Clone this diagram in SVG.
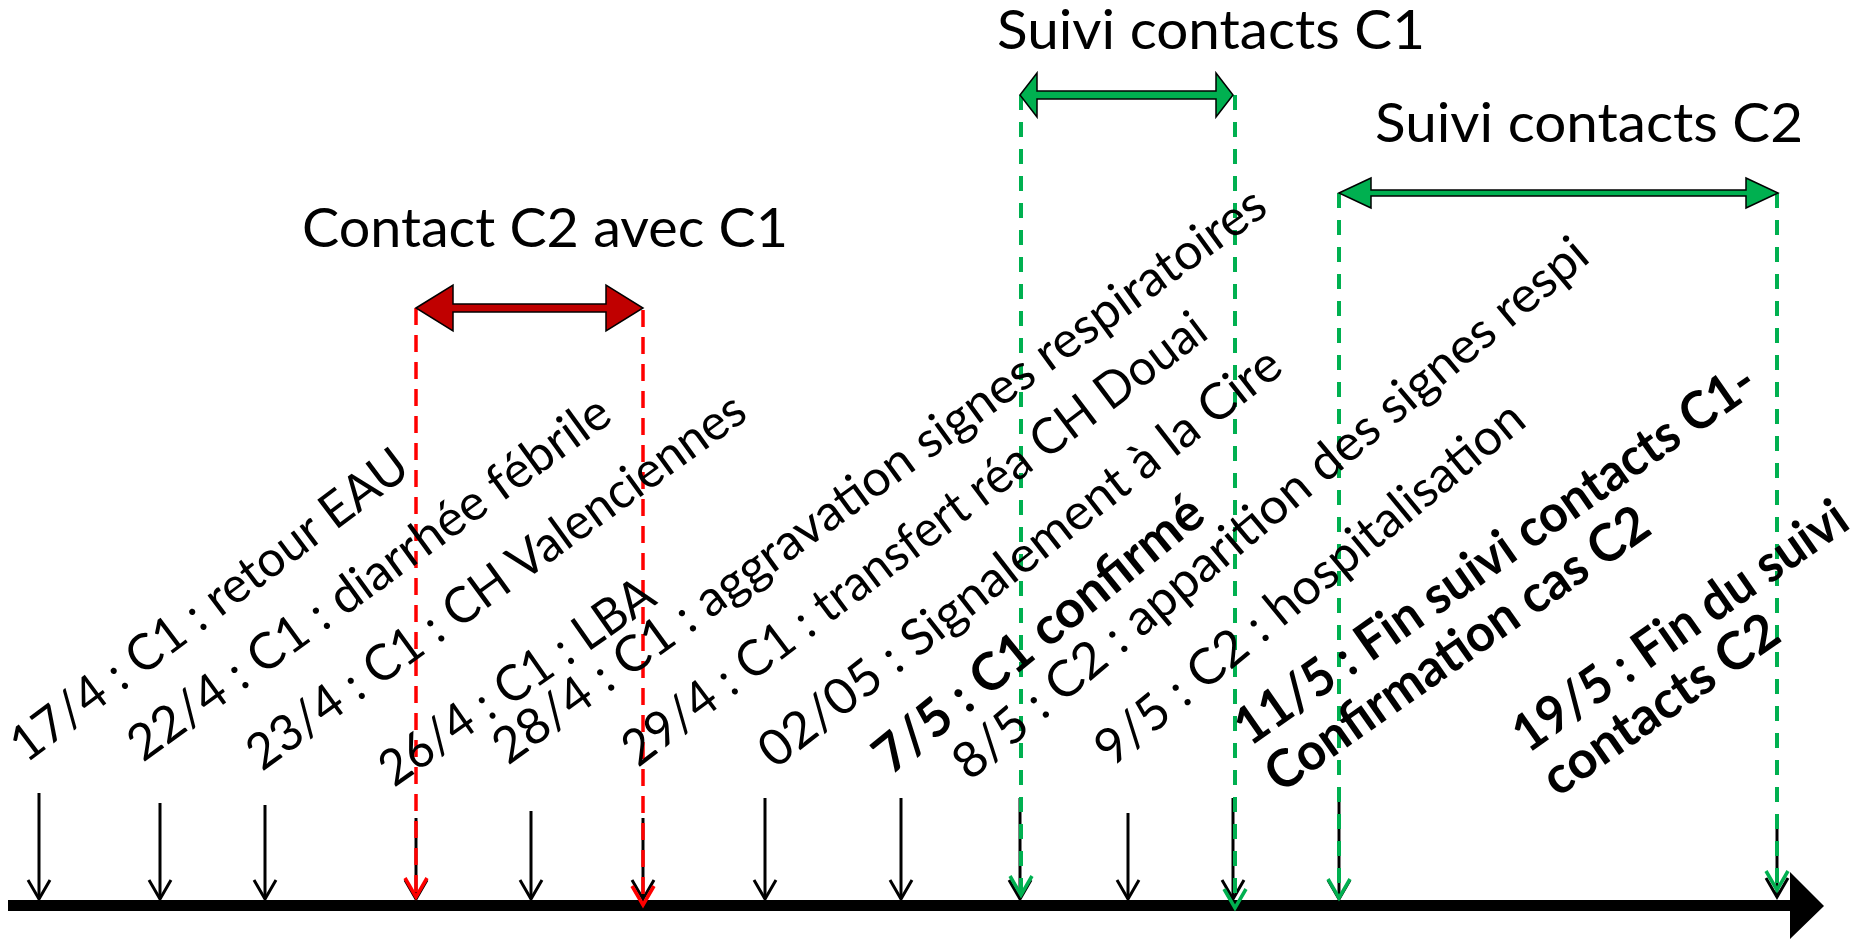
<svg xmlns="http://www.w3.org/2000/svg" width="1859" height="940" viewBox="0 0 1859 940">
  <style>
    .lbl { font-family: Lato, "Liberation Sans", sans-serif; fill: #000; font-size: 50px; }
    .bold { font-weight: bold; font-size: 52px; }
    .title { font-family: Lato, "Liberation Sans", sans-serif; fill: #000; font-size: 55px; }
    .ev { stroke: #000; stroke-width: 3; fill: none; marker-end: url(#headBlack); }
    .red { stroke: #FF0000; stroke-width: 3.5; stroke-dasharray: 17 10; fill: none; marker-end: url(#headRed); }
    .green { stroke: #00B050; stroke-width: 4; stroke-dasharray: 15 12; fill: none; marker-end: url(#headGreen); }
    .span { stroke: #000; stroke-width: 1.5; stroke-linejoin: miter; }
  </style>
  <defs>
    <marker id="headBlack" markerUnits="userSpaceOnUse" orient="auto" overflow="visible" markerWidth="1" markerHeight="1" refX="0" refY="0">
      <path d="M-19,-11 L0,0 L-19,11" fill="none" stroke="#000" stroke-width="3"/>
    </marker>
    <marker id="headRed" markerUnits="userSpaceOnUse" orient="auto" overflow="visible" markerWidth="1" markerHeight="1" refX="0" refY="0">
      <path d="M-19,-11 L0,0 L-19,11" fill="none" stroke="#FF0000" stroke-width="3.5"/>
    </marker>
    <marker id="headGreen" markerUnits="userSpaceOnUse" orient="auto" overflow="visible" markerWidth="1" markerHeight="1" refX="0" refY="0">
      <path d="M-19,-11 L0,0 L-19,11" fill="none" stroke="#00B050" stroke-width="3.5"/>
    </marker>
  </defs>

  <rect width="1859" height="940" fill="#fff"/>

  <!-- time axis -->
  <g id="axis">
    <polygon points="8,900 1790,900 1790,872 1824,906 1790,939 1790,911 8,911" fill="#000"/>
  </g>

  <!-- connectors: event ticks and period markers -->
  <g id="connectors">
    <line class="ev" x1="39" y1="793" x2="39" y2="899"/>
    <line class="ev" x1="160" y1="803" x2="160" y2="899"/>
    <line class="ev" x1="265" y1="805" x2="265" y2="899"/>
    <line class="ev" x1="416" y1="818" x2="416" y2="899"/>
    <line class="ev" x1="531" y1="811" x2="531" y2="899"/>
    <line class="ev" x1="643" y1="818" x2="643" y2="899"/>
    <line class="ev" x1="765" y1="798" x2="765" y2="899"/>
    <line class="ev" x1="901" y1="798" x2="901" y2="899"/>
    <line class="ev" x1="1020" y1="798" x2="1020" y2="899"/>
    <line class="ev" x1="1128" y1="813" x2="1128" y2="899"/>
    <line class="ev" x1="1233" y1="798" x2="1233" y2="899"/>
    <line class="ev" x1="1339" y1="797" x2="1339" y2="899"/>
    <line class="ev" x1="1777" y1="828" x2="1777" y2="897"/>

    <line class="red" x1="416" y1="308" x2="416" y2="897"/>
    <line class="red" x1="643" y1="310" x2="643" y2="905"/>

    <line class="green" x1="1021" y1="95" x2="1021" y2="895"/>
    <line class="green" x1="1235" y1="95" x2="1235" y2="908"/>
    <line class="green" x1="1339" y1="193" x2="1339" y2="898"/>
    <line class="green" x1="1777" y1="193" x2="1777" y2="890"/>
  </g>

  <!-- period spans -->
  <g id="contact-c2-c1">
    <polygon class="span" fill="#C00000" points="416,308 453,285 453,304 606,304 606,285 643,308 606,331 606,312 453,312 453,331"/>
    <text class="title" x="302" y="247" textLength="486" lengthAdjust="spacingAndGlyphs">Contact C2 avec C1</text>
  </g>
  <g id="suivi-c1">
    <polygon class="span" fill="#00B050" points="1020,95 1037,73 1037,91 1216,91 1216,73 1233,95 1216,117 1216,99 1037,99 1037,117"/>
    <text class="title" x="997" y="49" textLength="428" lengthAdjust="spacingAndGlyphs">Suivi contacts C1</text>
  </g>
  <g id="suivi-c2">
    <polygon class="span" fill="#00B050" points="1339,193 1371,178 1371,190 1746,190 1746,178 1778,193 1746,208 1746,196 1371,196 1371,208"/>
    <text class="title" x="1375" y="142" textLength="428" lengthAdjust="spacingAndGlyphs">Suivi contacts C2</text>
  </g>

  <!-- event labels -->
  <g id="ev-17-4"><text class="lbl" transform="translate(26,764) rotate(-37)" textLength="484" lengthAdjust="spacingAndGlyphs">17/4 : C1 : retour EAU</text></g>
  <g id="ev-22-4"><text class="lbl" transform="translate(143,763) rotate(-36)" textLength="583" lengthAdjust="spacingAndGlyphs">22/4 : C1 : diarrhée fébrile</text></g>
  <g id="ev-23-4"><text class="lbl" transform="translate(262,772) rotate(-36)" textLength="603" lengthAdjust="spacingAndGlyphs">23/4 : C1 : CH Valenciennes</text></g>
  <g id="ev-26-4"><text class="lbl" transform="translate(394,788) rotate(-35)" textLength="323" lengthAdjust="spacingAndGlyphs">26/4 : C1 : LBA</text></g>
  <g id="ev-28-4"><text class="lbl" transform="translate(508,766) rotate(-36)" textLength="942" lengthAdjust="spacingAndGlyphs">28/4 : C1 : aggravation signes respiratoires</text></g>
  <g id="ev-29-4"><text class="lbl" transform="translate(638,768) rotate(-37)" textLength="717" lengthAdjust="spacingAndGlyphs">29/4 : C1 : transfert réa CH Douai</text></g>
  <g id="ev-02-05"><text class="lbl" transform="translate(775,770) rotate(-38)" textLength="648" lengthAdjust="spacingAndGlyphs">02/05 : Signalement à la Cire</text></g>
  <g id="ev-7-5"><text class="lbl bold" transform="translate(891,776) rotate(-39)" textLength="408" lengthAdjust="spacingAndGlyphs">7/5 : C1 confirmé</text></g>
  <g id="ev-8-5"><text class="lbl" transform="translate(970,782) rotate(-40)" textLength="812" lengthAdjust="spacingAndGlyphs">8/5 : C2 : apparition des signes respi</text></g>
  <g id="ev-9-5"><text class="lbl" transform="translate(1112,768) rotate(-39.5)" textLength="540" lengthAdjust="spacingAndGlyphs">9/5 : C2 : hospitalisation</text></g>
  <g id="ev-11-5" transform="translate(1250,747) rotate(-35)">
    <text class="lbl bold" x="0" y="0" textLength="623" lengthAdjust="spacingAndGlyphs">11/5 : Fin suivi contacts C1-</text>
    <text class="lbl bold" x="-2" y="56" textLength="456" lengthAdjust="spacingAndGlyphs">Confirmation cas C2</text>
  </g>
  <g id="ev-19-5" transform="translate(1528,754) rotate(-35)">
    <text class="lbl bold" x="0" y="0" textLength="396" lengthAdjust="spacingAndGlyphs">19/5 : Fin du suivi</text>
    <text class="lbl bold" x="-1" y="53" textLength="276" lengthAdjust="spacingAndGlyphs">contacts C2</text>
  </g>
</svg>
